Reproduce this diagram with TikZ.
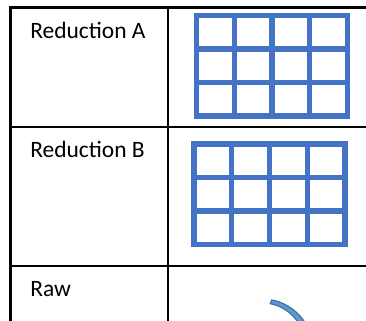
\documentclass[tikz,border=0pt]{standalone}
\usepackage{fontspec}
\setmainfont{Carlito}
\definecolor{gridblue}{RGB}{68,114,196}
\definecolor{arcfill}{RGB}{91,155,213}
\definecolor{arcline}{RGB}{65,113,156}
\tikzset{
  tableline/.style={draw=black, line width=1.6pt},
  gridline/.style={draw=gridblue, line width=3.8pt, line cap=rect},
  celltext/.style={anchor=base west, inner sep=0pt, font=\fontsize{17.6}{21}\selectfont}
}
\newcommand{\cellgrid}[2]{%
  \foreach \i in {0,...,4} \draw[gridline] (#1+37.75*\i,#2) -- ++(0,100.5);
  \foreach \j in {0,...,3} \draw[gridline] (#1,#2+33.5*\j) -- ++(151,0);
}
\begin{document}
\begin{tikzpicture}[x=0.75pt,y=0.75pt,yscale=-1,xscale=1]
\useasboundingbox (0,0) rectangle (366,320);
\clip (0,0) rectangle (366,320);

%Table lines
\draw[tableline] (10.5,330) -- (10.5,7.5) -- (380,7.5);
\draw[tableline] (168,7.5) -- (168,330);
\draw[tableline] (10.5,127) -- (380,127);
\draw[tableline] (10.5,266) -- (380,266);

%Shape: Grid A
\cellgrid{196.5}{15.5}
%Shape: Grid B
\cellgrid{194}{144}

%Shape: Circular arrow (cut off)
\draw[fill=arcfill, draw=arcline, line width=0.9pt] (262,350) ++(-79:51) arc[start angle=-79, end angle=-15, radius=51]
  -- ++(195:8) arc[start angle=-15, end angle=-79, radius=43] -- cycle;

% Text Node
\node[celltext] (redA) at (30,38.3) {Reduction A};
% Text Node
\node[celltext] (redB) at (30,157.6) {Reduction B};
% Text Node
\node[celltext] (raw) at (30,296.7) {Raw};

\end{tikzpicture}
\end{document}
